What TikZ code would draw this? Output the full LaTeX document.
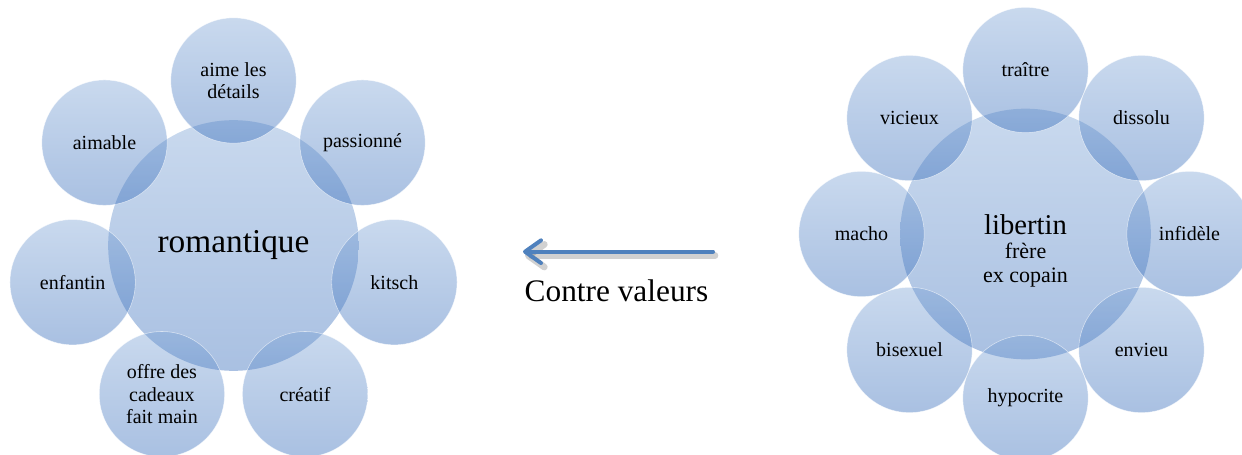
\documentclass[tikz,border=0pt]{standalone}
\usepackage{fontspec}
\setmainfont{Liberation Serif}
\usepackage{tikz}
\usetikzlibrary{arrows.meta, positioning}

\definecolor{blobtop}{RGB}{120,160,212}
\definecolor{blobbot}{RGB}{40,98,182}
\definecolor{arrowblue}{RGB}{79,129,189}

\begin{document}
\begin{tikzpicture}[x=0.75pt,y=0.75pt,
    blob/.style={circle, inner sep=0pt, top color=blobtop, bottom color=blobbot,
        fill opacity=0.4, text opacity=1, align=center},
    hub/.style={blob, minimum size=188pt},
    petal/.style={blob, minimum size=94pt, draw=white, draw opacity=0.6,
        line width=0.4pt, font=\fontsize{15}{17}\selectfont}]
    \useasboundingbox (0,0) rectangle (1242,454);
    \clip (0,0) rectangle (1242,454);

    % left cluster
    \node[hub, font=\fontsize{25}{30}\selectfont] (rom) at (233.5,208.5) {romantique};
    \foreach \lbl [count=\i, evaluate=\i as \ang using 90-(\i-1)*360/7] in
        {{aime les\\détails}, passionné, kitsch, créatif,
         {offre des\\cadeaux\\fait main}, enfantin, aimable}
        \node[petal] (r\i) at ([shift={(\ang:165)}]rom) {\lbl};

    % right cluster
    \node[hub] (lib) at (1025.5,220) {};
    \node[align=center, font=\fontsize{16.5}{18}\selectfont] (libtxt)
        at ([yshift=-13pt]lib) {{\fontsize{21.5}{24}\selectfont libertin}\\frère\\ex copain};
    \foreach \lbl [count=\i, evaluate=\i as \ang using 90-(\i-1)*45] in
        {traître, dissolu, infidèle, envieu, hypocrite, bisexuel, macho, vicieux}
        \node[petal] (l\i) at ([shift={(\ang:164)}]lib) {\lbl};

    % arrow
    \coordinate (arrS) at (713,202.3);
    \coordinate (arrE) at (523,202.3);
    \draw[black, opacity=0.18, line width=5pt, line cap=round,
        -{Straight Barb[length=12pt, width=17pt, round]}]
        ([shift={(2,-4)}]arrS) -- ([shift={(2,-4)}]arrE);
    \draw[arrowblue, line width=3pt, line cap=round,
        -{Straight Barb[length=12pt, width=17pt, round]}] (arrS) -- (arrE);
    \node[anchor=base, font=\fontsize{23.5}{28}\selectfont] (cv) at (616.5,152.3) {Contre valeurs};
\end{tikzpicture}
\end{document}
